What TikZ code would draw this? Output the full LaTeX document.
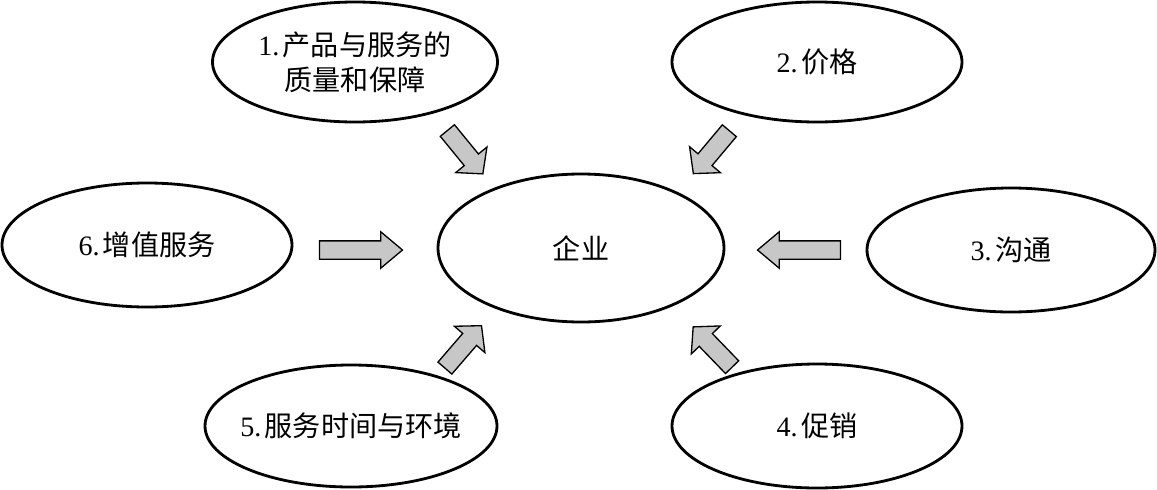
\documentclass[tikz,border=0pt]{standalone}
\usepackage{fontspec}
\setmainfont{Liberation Serif}
\newfontfamily\cjk{Noto Sans CJK SC}
\usetikzlibrary{shapes.geometric, shapes.arrows, positioning}

\newcommand{\nr}[1]{\textrm{#1}\kern0.12em}

\begin{document}
\begin{tikzpicture}[
    oval/.style={ellipse, draw, line width=1.6pt, minimum width=5.8cm, minimum height=2.44cm, inner xsep=-1.6cm, inner ysep=-0.6cm, align=center, font=\cjk\fontsize{16}{20}\selectfont},
    blockarr/.style={single arrow, draw, fill=black!22, line width=0.75pt, inner xsep=0pt, inner ysep=0.17cm, minimum width=0pt, single arrow head indent=0pt},
    sidearr/.style={blockarr, minimum height=1.66cm, single arrow head extend=0.18cm, single arrow tip angle=80},
    diagarr/.style={blockarr, minimum height=1.12cm, single arrow head extend=0.22cm, single arrow tip angle=96}
]
    \useasboundingbox (0,0) rectangle (23.14,-9.78);

    % Centre
    \node [oval, minimum width=5.72cm, minimum height=2.96cm] (firm) at (11.62, -4.96) {企业};

    % Factors
    \node [oval, minimum width=5.7cm, minimum height=2.4cm] (f1) at (7.10, -1.24) {\nr{1.}产品与服务的\\质量和保障};
    \node [oval, minimum height=2.4cm] (f2) at (16.34, -1.24) {\nr{2.}价格};
    \node [oval, minimum width=5.76cm, minimum height=2.48cm] (f3) at (20.22, -5.0) {\nr{3.}沟通};
    \node [oval, minimum height=2.48cm] (f4) at (16.34, -8.52) {\nr{4.}促销};
    \node [oval, minimum width=5.84cm] (f5) at (7.02, -8.52) {\nr{5.}服务时间与环境};
    \node [oval, minimum height=2.48cm] (f6) at (2.94, -4.9) {\nr{6.}增值服务};

    % Arrows
    \node [diagarr, rotate=-50.7] (a1) at (9.25, -2.98) {};
    \node [diagarr, rotate=230] (a2) at (14.28, -2.98) {};
    \node [sidearr, rotate=180] (a3) at (16.09, -5.0) {};
    \node [diagarr, rotate=134] (a4) at (14.31, -7.0) {};
    \node [diagarr, rotate=49.2] (a5) at (9.21, -7.0) {};
    \node [sidearr] (a6) at (7.11, -5.0) {};
\end{tikzpicture}
\end{document}
